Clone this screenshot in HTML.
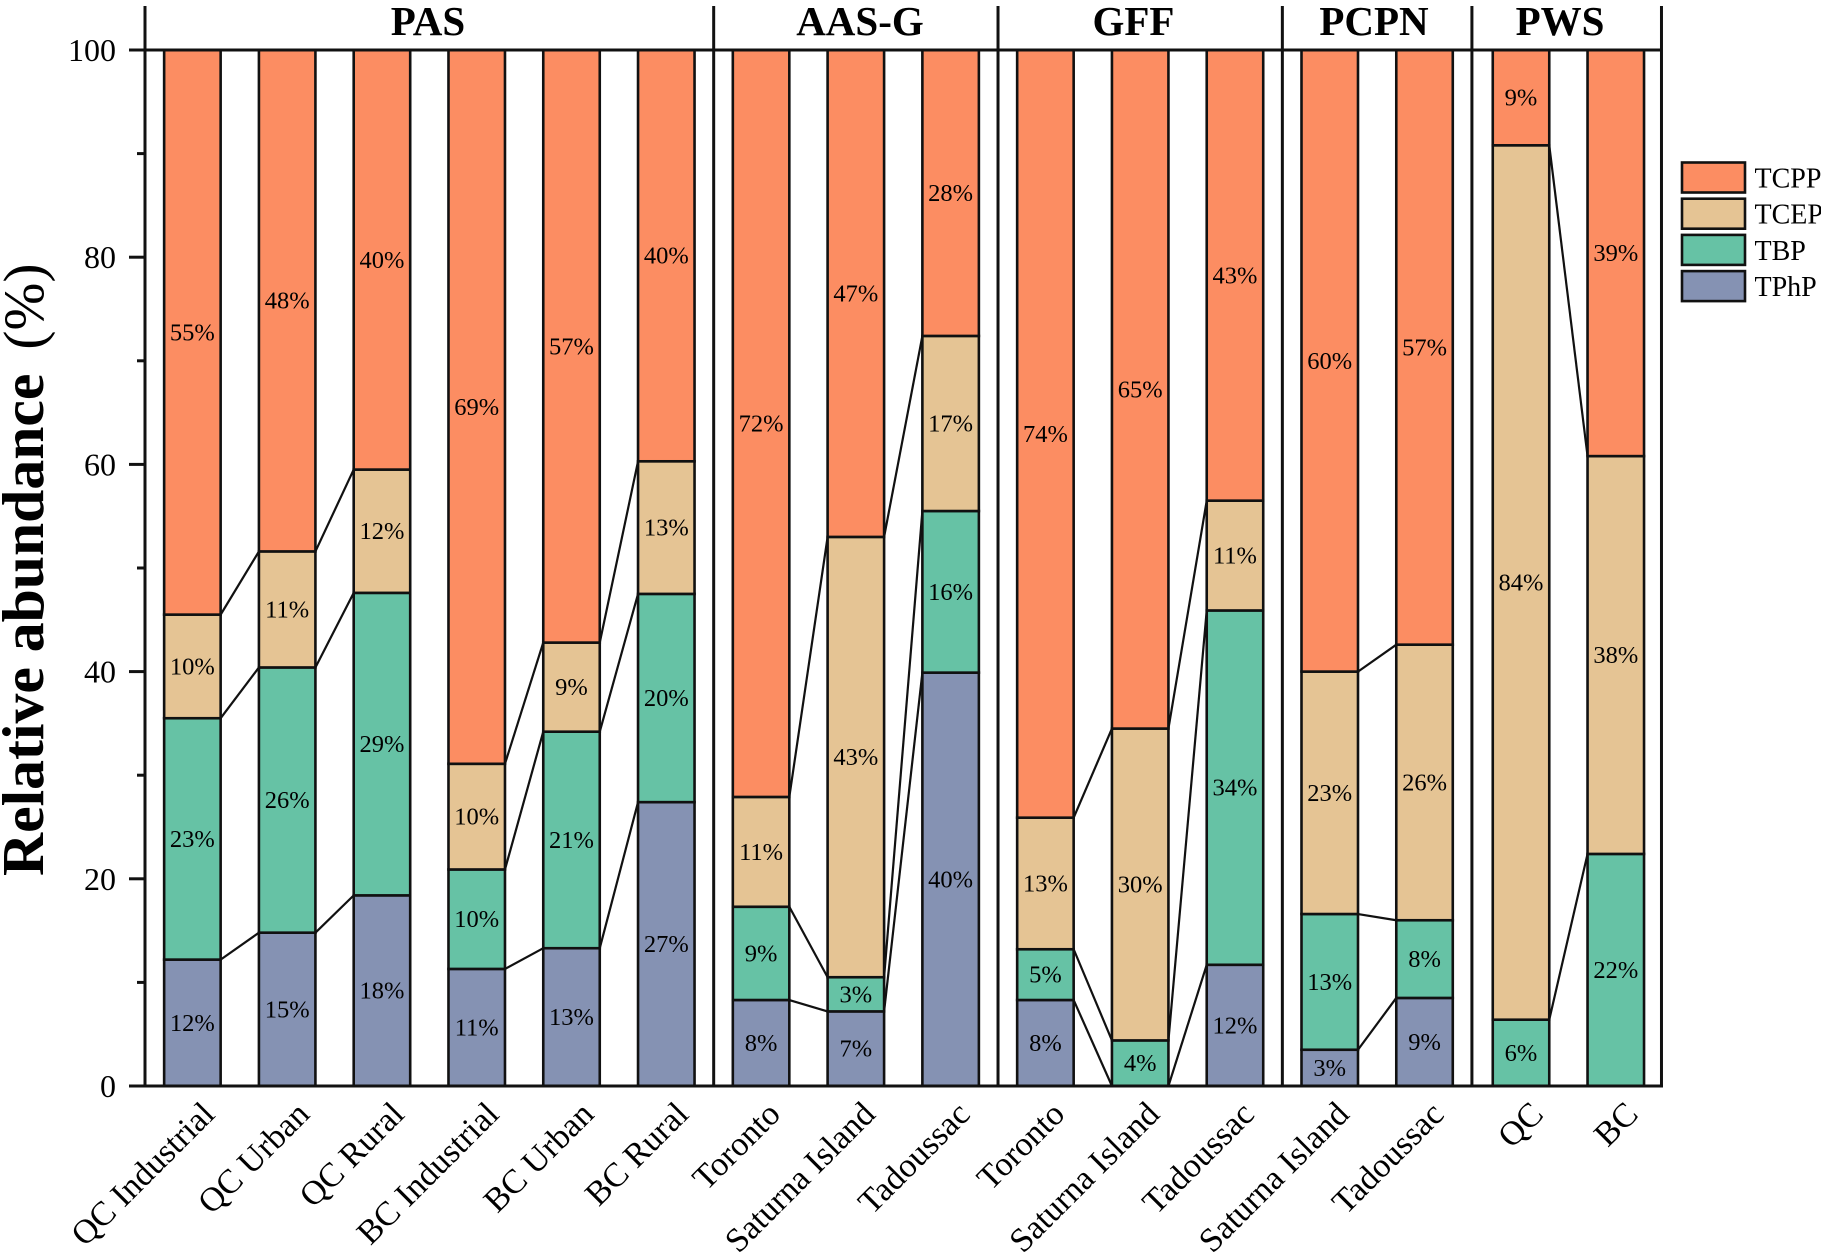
<!DOCTYPE html>
<html lang="en">
<head>
<meta charset="utf-8">
<title>Relative abundance chart</title>
<style>
html,body{margin:0;padding:0;background:#fff;}
svg{display:block;font-family:"Liberation Serif",serif;filter:blur(0.3px);}
</style>
</head>
<body>
<svg id="chart" xmlns="http://www.w3.org/2000/svg" width="1821" height="1254" viewBox="0 0 1821 1254">
<text x="428" y="35" text-anchor="middle" font-size="41" font-weight="bold" fill="#000">PAS</text>
<text x="860" y="35" text-anchor="middle" font-size="41" font-weight="bold" fill="#000">AAS-G</text>
<text x="1133.5" y="35" text-anchor="middle" font-size="41" font-weight="bold" fill="#000">GFF</text>
<text x="1374" y="35" text-anchor="middle" font-size="41" font-weight="bold" fill="#000">PCPN</text>
<text x="1560" y="35" text-anchor="middle" font-size="41" font-weight="bold" fill="#000">PWS</text>
<text x="0" y="0" font-size="59.7" font-weight="bold" fill="#000" transform="translate(43 876) rotate(-90)">Relative abundance<tspan dx="24" font-weight="normal" font-size="57.5">(%)</tspan></text>
</svg>
<script>
const categories = ["QC Industrial","QC Urban","QC Rural","BC Industrial","BC Urban","BC Rural","Toronto","Saturna Island","Tadoussac","Toronto","Saturna Island","Tadoussac","Saturna Island","Tadoussac","QC","BC"];
const groupSizes = [6,3,3,2,2];
const tphpValues = [12.2,14.8,18.4,11.3,13.3,27.4,8.3,7.2,39.9,8.3,0,11.7,3.5,8.5,0,0];
const tbpValues = [23.3,25.6,29.2,9.6,20.9,20.1,9.0,3.3,15.6,4.9,4.4,34.2,13.1,7.5,6.4,22.4];
const tcepValues = [10.0,11.2,11.9,10.2,8.6,12.8,10.6,42.5,16.9,12.7,30.1,10.6,23.4,26.6,84.4,38.4];
const tcppValues = [54.5,48.4,40.5,68.9,57.2,39.7,72.1,47.0,27.6,74.1,65.5,43.5,60.0,57.4,9.2,39.2];
const tphpLabels = ["12%","15%","18%","11%","13%","27%","8%","7%","40%","8%","","12%","3%","9%","",""];
const tbpLabels = ["23%","26%","29%","10%","21%","20%","9%","3%","16%","5%","4%","34%","13%","8%","6%","22%"];
const tcepLabels = ["10%","11%","12%","10%","9%","13%","11%","43%","17%","13%","30%","11%","23%","26%","84%","38%"];
const tcppLabels = ["55%","48%","40%","69%","57%","40%","72%","47%","28%","74%","65%","43%","60%","57%","9%","39%"];
const yTicks = [0,20,40,60,80,100];
const yMinorTicks = [10,30,50,70,90];
const seriesNames = ["TCPP","TCEP","TBP","TPhP"];

const svg = document.getElementById('chart');
const NS = 'http://www.w3.org/2000/svg';
const plotLeft = 145, plotTop = 50, plotBottom = 1086, axisTop = 6;
const band = 94.78, barWidth = 56.5;
const ink = '#111';
const colorMap = {TCPP:'#FC8D62',TCEP:'#E5C494',TBP:'#66C2A5',TPhP:'#8592B3'};
const plotRight = plotLeft + band * categories.length;
function xCenter(i){ return plotLeft + band * (i + 0.5) + (i >= 14 ? 1.7 : 0); }
function xLeft(i){ return xCenter(i) - barWidth / 2; }
function yPos(v){ return plotBottom - (plotBottom - plotTop) * v / 100; }
function mk(tag, attrs, parent){
  const el = document.createElementNS(NS, tag);
  for (const k in attrs) el.setAttribute(k, attrs[k]);
  (parent || svg).appendChild(el);
  return el;
}

const stack = [
  {name:'TPhP', values:tphpValues, labels:tphpLabels},
  {name:'TBP', values:tbpValues, labels:tbpLabels},
  {name:'TCEP', values:tcepValues, labels:tcepLabels},
  {name:'TCPP', values:tcppValues, labels:tcppLabels}
];

// stacked segments and value labels
const labelQueue = [];
categories.forEach(function(cat, i){
  let base = 0;
  stack.forEach(function(s){
    const v = s.values[i];
    const top = base + v;
    if (v > 0) {
      const r = mk('rect', {x:xLeft(i), y:yPos(top), width:barWidth, height:yPos(base)-yPos(top), fill:colorMap[s.name], stroke:ink, 'stroke-width':2.6});
      
      
    }
    if (s.labels[i]) labelQueue.push({x:xCenter(i), y:yPos(base + v / 2) + 8, text:s.labels[i]});
    base = top;
  });
});

// connector lines between neighbouring bars of a group (QC sites are not joined to BC sites in PAS)
let start = 0;
groupSizes.forEach(function(size){
  for (let i = start; i < start + size - 1; i++) {
    if (categories[i] === 'QC Rural') continue;
    let a = 0, b = 0;
    stack.slice(0, 3).forEach(function(s){
      a += s.values[i];
      b += s.values[i + 1];
      const l = mk('line', {x1:xLeft(i)+barWidth, y1:yPos(a), x2:xLeft(i+1), y2:yPos(b), stroke:ink, 'stroke-width':2.2});
      
      
    });
  }
  start += size;
});

labelQueue.forEach(function(d){
  const t = mk('text', {x:d.x, y:d.y, 'text-anchor':'middle', 'font-size':24.5, fill:'#000'});
  t.textContent = d.text;
  
  
});

// axes frame
const leftAxis = mk('line', {x1:plotLeft, y1:axisTop, x2:plotLeft, y2:plotBottom, stroke:ink, 'stroke-width':3});


const rightAxis = mk('line', {x1:plotRight, y1:axisTop, x2:plotRight, y2:plotBottom+1.5, stroke:ink, 'stroke-width':3});


const topAxis = mk('line', {x1:129, y1:plotTop, x2:plotRight, y2:plotTop, stroke:ink, 'stroke-width':3});


const bottomAxis = mk('line', {x1:129, y1:plotBottom, x2:plotRight+1.5, y2:plotBottom, stroke:ink, 'stroke-width':3});



// y ticks
yTicks.forEach(function(v){
  const tk = mk('line', {x1:129, y1:yPos(v), x2:plotLeft, y2:yPos(v), stroke:ink, 'stroke-width':3});
  
  
  const t = mk('text', {x:116, y:yPos(v)+11, 'text-anchor':'end', 'font-size':32, fill:'#000'});
  t.textContent = v;
  
  
});
yMinorTicks.forEach(function(v){
  const tk = mk('line', {x1:137, y1:yPos(v), x2:plotLeft, y2:yPos(v), stroke:ink, 'stroke-width':3});
  
  
});

// group separators
start = 0;
groupSizes.forEach(function(size){
  const end = start + size;
  const x1 = plotLeft + band * end;
  if (end < categories.length) {
    const sep = mk('line', {x1:x1, y1:axisTop, x2:x1, y2:plotBottom, stroke:ink, 'stroke-width':3});
    
    
  }
  start = end;
});

// x category labels
categories.forEach(function(cat, i){
  const px = xCenter(i) + (i >= 6 && i < 14 ? 21 : 24), py = 1116;
  const t = mk('text', {x:px, y:py, 'text-anchor':'end', 'font-size':34, fill:'#000', transform:'rotate(-45 '+px+' '+py+')'});
  t.textContent = cat;
  
  
});

// legend
seriesNames.forEach(function(name, i){
  const y = 162.5 + 36.2 * i;
  const swatch = mk('rect', {x:1682, y:y, width:63, height:30, fill:colorMap[name], stroke:ink, 'stroke-width':2.6});
  
  
  const t = mk('text', {x:1754.5, y:y+25, 'font-size':28, fill:'#000'});
  t.textContent = name;
  
  
});
</script>
</body>
</html>
